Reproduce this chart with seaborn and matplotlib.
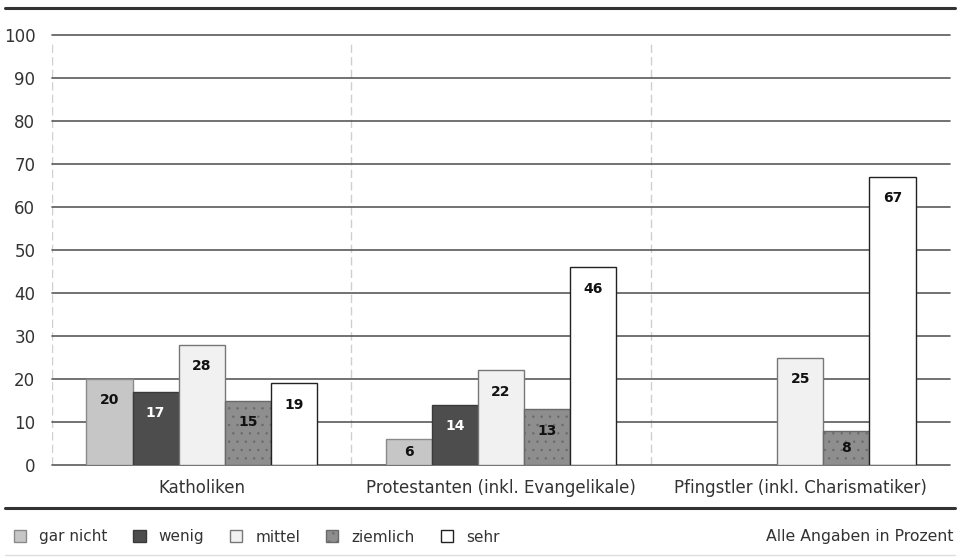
import numpy as np
import pandas as pd
import matplotlib
matplotlib.use("Agg")
import matplotlib.pyplot as plt
from matplotlib.patches import Patch
from matplotlib.lines import Line2D
import seaborn as sns

categories = ["Katholiken", "Protestanten (inkl. Evangelikale)", "Pfingstler (inkl. Charismatiker)"]
levels = ["gar nicht", "wenig", "mittel", "ziemlich", "sehr"]
gar_nicht = [20, 6, 0]
wenig = [17, 14, 0]
mittel = [28, 22, 25]
ziemlich = [15, 13, 8]
sehr = [19, 46, 67]
y_ticks = [0, 10, 20, 30, 40, 50, 60, 70, 80, 90, 100]
note = "Alle Angaben in Prozent"

sns.set_theme(style="white")
plt.rcParams["font.family"] = ["Liberation Sans Narrow", "DejaVu Sans"]
plt.rcParams["hatch.color"] = "#7a7a7a"
plt.rcParams["hatch.linewidth"] = 0.5

series = {"gar nicht": gar_nicht, "wenig": wenig, "mittel": mittel,
          "ziemlich": ziemlich, "sehr": sehr}
rows = []
for lvl in levels:
    for cat, v in zip(categories, series[lvl]):
        rows.append({"Gruppe": cat, "Stufe": lvl, "Wert": v})
df = pd.DataFrame(rows)

fills = {"gar nicht": "#c6c6c6", "wenig": "#4d4d4d", "mittel": "#f1f1f1",
         "ziemlich": "#8e8e8e", "sehr": "#ffffff"}
edges = {"gar nicht": "#8a8a8a", "wenig": "#3a3a3a", "mittel": "#777777",
         "ziemlich": "#6a6a6a", "sehr": "#222222"}
txtcol = {"gar nicht": "#111111", "wenig": "#ffffff", "mittel": "#111111",
          "ziemlich": "#111111", "sehr": "#111111"}

fig = plt.figure(figsize=(9.61, 5.58), dpi=100)
ax = fig.add_axes([52/961, 1-465/558, (950-52)/961, (465-35)/558])

sns.barplot(data=df, x="Gruppe", y="Wert", hue="Stufe", order=categories,
            hue_order=levels, palette=fills, width=0.77, gap=0,
            linewidth=1.0, edgecolor="#555555", legend=False, ax=ax, zorder=3)

for lvl, cont in zip(levels, ax.containers):
    for bar, v in zip(cont, series[lvl]):
        bar.set_edgecolor(edges[lvl])
        if lvl == "ziemlich":
            bar.set_hatch("..")
        if v > 0:
            y = max(v - 5, v / 2)
            ax.text(bar.get_x() + bar.get_width() / 2, y, str(v),
                    ha="center", va="center", fontsize=10, fontweight="bold",
                    color=txtcol[lvl], zorder=5)
        else:
            bar.set_visible(False)

ax.set_xlim(-0.5, 2.5)
ax.set_ylim(0, 100)
ax.set_yticks(y_ticks)
ax.set_yticklabels([str(t) for t in y_ticks], fontsize=12, color="#333333")
ax.tick_params(axis="y", length=0, pad=12)
ax.tick_params(axis="x", length=0, pad=10, labelsize=12, labelcolor="#333333")
ax.set_xlabel("")
ax.set_ylabel("")
for s in ax.spines.values():
    s.set_visible(False)
for t in y_ticks:
    ax.axhline(t, color="#5a5a5a", lw=1.2, zorder=1, clip_on=False)
for xv in [-0.5, 0.5, 1.5]:
    ax.axvline(xv, ymax=0.98, color="#cfcfcf", lw=1.0, ls=(0, (6, 3)), zorder=0)

fig.add_artist(Line2D([5/961, 955/961], [1-8/558, 1-8/558], color="#333333", lw=2.2))
fig.add_artist(Line2D([5/961, 955/961], [1-508/558, 1-508/558], color="#333333", lw=2.2))
fig.add_artist(Line2D([5/961, 955/961], [1-555/558, 1-555/558], color="#dddddd", lw=1.0))

handles = []
for lvl in levels:
    handles.append(Patch(facecolor=fills[lvl], edgecolor=edges[lvl],
                         hatch=".." if lvl == "ziemlich" else None, lw=1.0))
fig.legend(handles, levels, loc="center left", bbox_to_anchor=(0.0, 1-537/558),
           ncol=5, frameon=False, fontsize=11, handlelength=0.8, handleheight=0.8,
           handletextpad=0.85, columnspacing=1.7, labelcolor="#333333")
fig.text(953/961, 1-537/558, note, ha="right", va="center", fontsize=11.3, color="#333333")

fig.savefig("out.png", dpi=100)
